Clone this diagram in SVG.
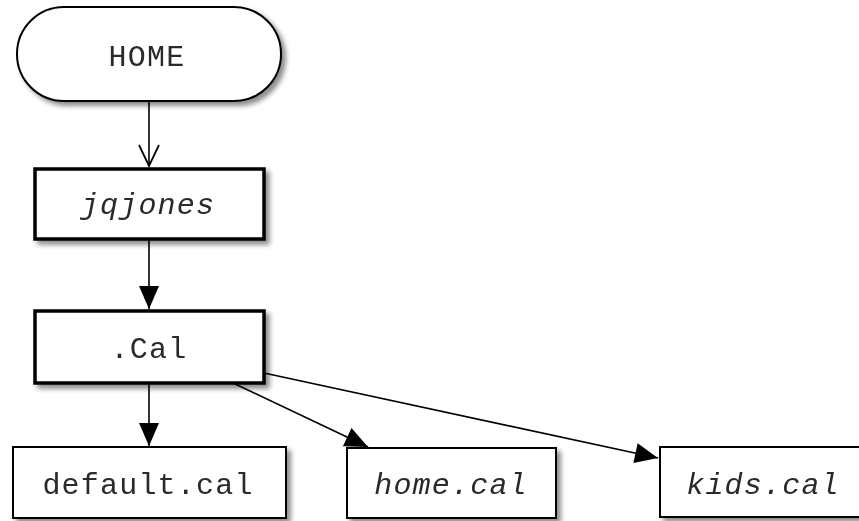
<svg xmlns="http://www.w3.org/2000/svg" width="859" height="521" viewBox="0 0 859 521">
<defs>
<filter id="sh" x="-10%" y="-10%" width="130%" height="140%">
<feGaussianBlur in="SourceAlpha" stdDeviation="2.5"/>
<feOffset dx="4" dy="4" result="b"/>
<feComponentTransfer in="b" result="c"><feFuncA type="linear" slope="0.45"/></feComponentTransfer>
<feMerge><feMergeNode in="c"/><feMergeNode in="SourceGraphic"/></feMerge>
</filter>
<marker id="fill" markerUnits="userSpaceOnUse" markerWidth="26" markerHeight="22" refX="24" refY="11" orient="auto" viewBox="0 0 26 22">
<path d="M1,1 L24,11 L1,21 Z" fill="#000"/>
</marker>
<marker id="open" markerUnits="userSpaceOnUse" markerWidth="26" markerHeight="24" refX="22" refY="12" orient="auto" viewBox="0 0 26 24">
<path d="M1,2 L22,12 L1,22" fill="none" stroke="#000" stroke-width="1.8"/>
</marker>
</defs>
<style>
.box{fill:#fff;stroke:#000}
.thick{stroke-width:3.5}
.thin{stroke-width:2}
text{font-family:"Liberation Mono","Courier New",monospace;font-size:30px;fill:#2a2a2a;text-anchor:middle;letter-spacing:1.2px}
.it{font-style:italic}
.c{fill:none;stroke:#000;stroke-width:1.6}
</style>
<rect width="859" height="521" fill="#fff"/>
<g id="connectors">
<line class="c" x1="149" y1="101" x2="149" y2="166" marker-end="url(#open)"/>
<line class="c" x1="149" y1="240" x2="149" y2="309" marker-end="url(#fill)"/>
<line class="c" x1="149" y1="384" x2="149" y2="446" marker-end="url(#fill)"/>
<line class="c" x1="233" y1="383" x2="368" y2="447" marker-end="url(#fill)"/>
<line class="c" x1="264" y1="373" x2="658" y2="458" marker-end="url(#fill)"/>
</g>
<g id="home" filter="url(#sh)">
<rect class="box thin" x="17" y="7" width="264" height="94" rx="47" ry="47"/>
<text x="147" y="66">HOME</text>
</g>
<g id="jqjones" filter="url(#sh)">
<rect class="box thick" x="35" y="169" width="229" height="70"/>
<text class="it" x="148" y="214">jqjones</text>
</g>
<g id="cal" filter="url(#sh)">
<rect class="box thick" x="35" y="311" width="229" height="72"/>
<text x="149" y="358">.Cal</text>
</g>
<g id="default" filter="url(#sh)">
<rect class="box thin" x="13" y="447" width="273" height="71"/>
<text x="148" y="494">default.cal</text>
</g>
<g id="homecal" filter="url(#sh)">
<rect class="box thin" x="347" y="448" width="209" height="70"/>
<text class="it" x="451" y="494">home.cal</text>
</g>
<g id="kids" filter="url(#sh)">
<rect class="box thin" x="660" y="447" width="230" height="70"/>
<text class="it" x="763" y="494">kids.cal</text>
</g>
</svg>
